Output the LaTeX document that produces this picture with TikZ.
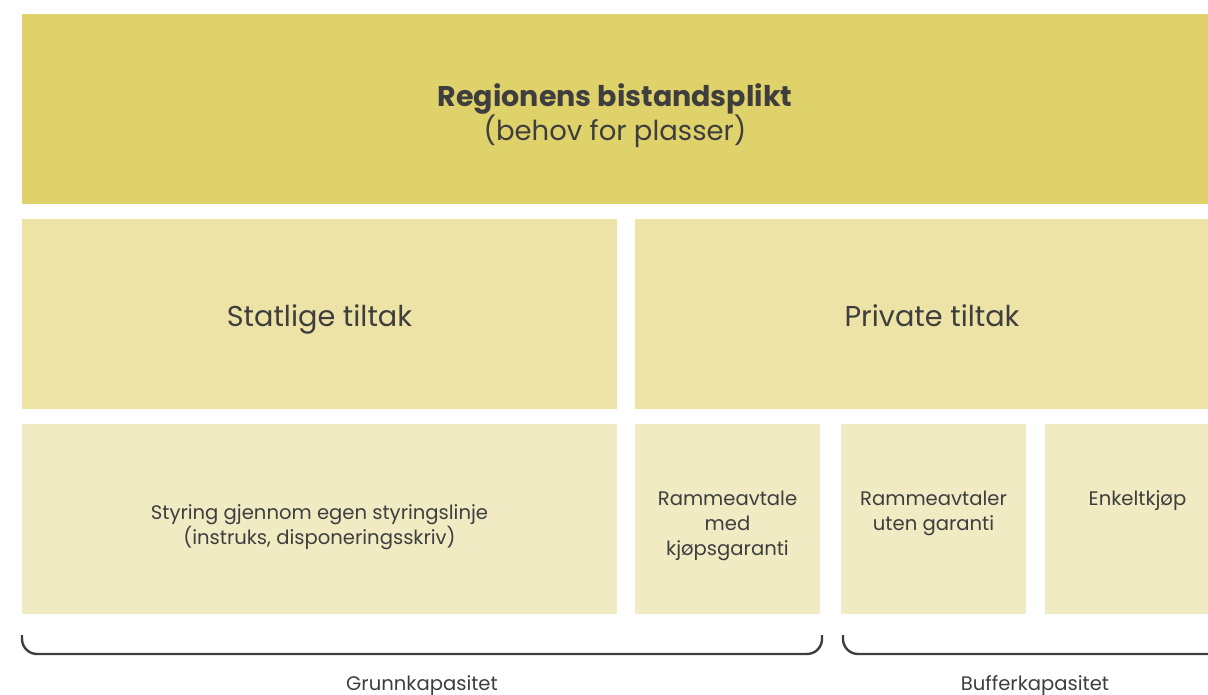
\documentclass[tikz,border=0pt]{standalone}
\usepackage{fontspec}
\setmainfont{Poppins}
\usepackage{tikz}
\usetikzlibrary{positioning}
\definecolor{boxTop}{RGB}{224, 210, 106}
\definecolor{boxMid}{RGB}{237, 227, 166}
\definecolor{boxLow}{RGB}{241, 235, 196}
\definecolor{ink}{RGB}{62, 62, 62}

\begin{document}
\begin{tikzpicture}[x=1pt, y=-1pt, text=ink,
  tile/.style={inner sep=0pt, outer sep=0pt, minimum height=190pt},
  bigtext/.style={font=\fontsize{28.7}{34}\selectfont, anchor=base},
  smalltext/.style={font=\fontsize{19.6}{25}\selectfont, align=center, anchor=north},
  brace/.style={draw=ink, line width=2.4pt, rounded corners=15pt}]
  \useasboundingbox (0,0) rectangle (1208,695);
  % rows of tiles (the right column runs past the edge)
  \node[tile, fill=boxTop, minimum width=1186pt] (duty) at (615,109) {};
  \node[tile, fill=boxMid, minimum width=595pt] (state) at (319.5,314) {};
  \node[tile, fill=boxMid, minimum width=594pt] (private) at (932,314) {};
  \node[tile, fill=boxLow, minimum width=595pt] (steer) at (319.5,519) {};
  \node[tile, fill=boxLow, minimum width=185pt] (frameA) at (727.5,519) {};
  \node[tile, fill=boxLow, minimum width=185pt] (frameB) at (933.5,519) {};
  \node[tile, fill=boxLow, minimum width=185pt] (single) at (1137.5,519) {};
  % texts
  \node[bigtext, font=\fontsize{28.5}{34}\selectfont\bfseries] (dutyTxt) at ([yshift=2pt]duty.center) {Regionens bistandsplikt};
  \node[bigtext, font=\fontsize{27.5}{34}\selectfont] (dutySub) at ([yshift=-34pt]dutyTxt.base) {(behov for plasser)};
  \node[bigtext] (stateTxt) at ([yshift=-12pt]state.center) {Statlige tiltak};
  \node[bigtext] (privateTxt) at ([yshift=-12pt]private.center) {Private tiltak};
  \node[smalltext, anchor=center] (steerTxt) at ([yshift=-8pt]steer.center) {Styring gjennom egen styringslinje\\(instruks, disponeringsskriv)};
  \node[smalltext] (frameATxt) at ([yshift=-63pt]frameA.north) {Rammeavtale\\med\\kjøpsgaranti};
  \node[smalltext] (frameBTxt) at ([yshift=-63pt]frameB.north) {Rammeavtaler\\uten garanti};
  \node[smalltext] (singleTxt) at ([yshift=-63pt]single.north) {Enkeltkjøp};
  % braces
  \draw[brace] ([yshift=-21pt]steer.south west) -- ++(0,19) -| ([xshift=2pt,yshift=-21pt]frameA.south east);
  \draw[brace] ([xshift=2pt,yshift=-21pt]frameB.south west) -- ++(0,19) -- ++(400,0);
  \node[smalltext, anchor=center] (base) at (422,686) {Grunnkapasitet};
  \node[smalltext, anchor=center] (buffer) at (1035,686) {Bufferkapasitet};
\end{tikzpicture}
\end{document}
